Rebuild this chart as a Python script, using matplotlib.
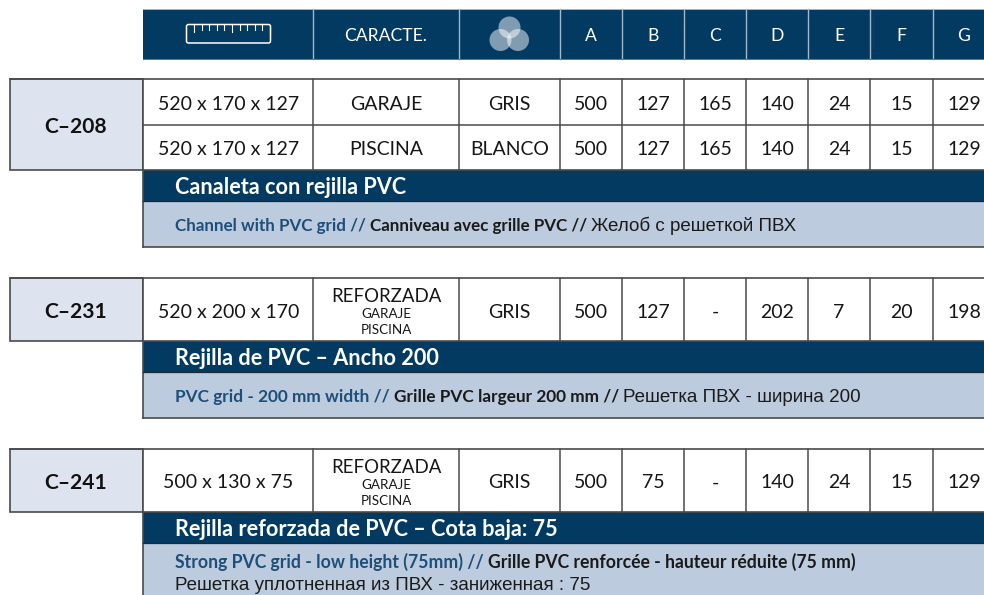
import matplotlib
matplotlib.use('Agg')
import matplotlib.pyplot as plt
from matplotlib.patches import Rectangle, Circle, FancyBboxPatch

# table content
header_labels = ['', 'CARACTE.', '', 'A', 'B', 'C', 'D', 'E', 'F', 'G']
codes = ['C-208', 'C-231', 'C-241']
block1_rows = [
    ['520 x 170 x 127', 'GARAJE', 'GRIS', '500', '127', '165', '140', '24', '15', '129'],
    ['520 x 170 x 127', 'PISCINA', 'BLANCO', '500', '127', '165', '140', '24', '15', '129'],
]
block2_row = ['520 x 200 x 170', 'REFORZADA', 'GRIS', '500', '127', '-', '202', '7', '20', '198']
block3_row = ['500 x 130 x 75', 'REFORZADA', 'GRIS', '500', '75', '-', '140', '24', '15', '129']
sub_labels = ['GARAJE', 'PISCINA']
titles = ['Canaleta con rejilla PVC', 'Rejilla de PVC - Ancho 200',
          'Rejilla reforzada de PVC - Cota baja: 75']
desc_en = ['Channel with PVC grid // ', 'PVC grid - 200 mm width // ',
           'Strong PVC grid - low height (75mm) // ']
desc_fr = ['Canniveau avec grille PVC // ', 'Grille PVC largeur 200 mm // ',
           'Grille PVC renforcée - hauteur réduite (75 mm)']
desc_ru = ['Желоб с решеткой ПВХ', 'Решетка ПВХ - ширина 200',
           'Решетка уплотненная из ПВХ - заниженная : 75']

# layout in pixels
col_x = [143, 313, 459, 560, 622, 684, 746, 808, 870, 933, 995]
desc_sizes = [17.0, 17.3, 17.6]
NAVY = '#023a62'
LIGHT = '#bdcbde'
CODE_BG = '#dee4ef'
LINE = '#4a4a4a'
TXT = '#161616'

fig = plt.figure(figsize=(9.84, 5.95), dpi=100)
ax = fig.add_axes([0, 0, 1, 1])
ax.set_xlim(0, 984)
ax.set_ylim(595, 0)
ax.axis('off')


def px(size):
    return size * 0.72


def run_text(x, y, parts):
    # draw text pieces one after the other on the same baseline
    rend = fig.canvas.get_renderer()
    for s, color, family, weight, size in parts:
        t = ax.text(x, y, s, color=color, family=family, weight=weight,
                    fontsize=px(size), va='baseline', ha='left')
        x += t.get_window_extent(rend).width
    return x


def draw_row(values, y0, y1, sub=False):
    for i, val in enumerate(values):
        xc = (col_x[i] + col_x[i + 1]) / 2
        if i == 0:
            xc = 228.5
        if sub and i == 1:
            ax.text(xc, y0 + 18.5, val, ha='center', va='center', family='Lato',
                    fontsize=px(18.7), color=TXT)
            ax.text(xc, y0 + 36, sub_labels[0], ha='center', va='center', family='Lato',
                    fontsize=px(13.5), color=TXT)
            ax.text(xc, y0 + 52, sub_labels[1], ha='center', va='center', family='Lato',
                    fontsize=px(13.5), color=TXT)
        else:
            ax.text(xc, (y0 + y1) / 2 + 2.5, val, ha='center', va='center', family='Lato',
                    fontsize=px(19.5), color=TXT)


def draw_block(code, rows, y0, y1, y2, y3, idx, sub=False):
    ax.add_patch(Rectangle((10, y0), 133, y1 - y0, fc=CODE_BG, ec=LINE, lw=1.2))
    ax.text(76, (y0 + y1) / 2 + 2.5, code.replace('-', '\u2013'), ha='center', va='center',
            family='Lato', weight='bold', fontsize=px(21), color='#111111')
    ax.add_patch(Rectangle((143, y0), 850, y1 - y0, fc='white', ec='none'))
    ax.add_patch(Rectangle((143, y1), 850, y2 - y1, fc=NAVY, ec='none'))
    ax.add_patch(Rectangle((143, y2), 850, y3 - y2, fc=LIGHT, ec='none'))
    ax.plot([143, 143], [y0, y3], color=LINE, lw=1.2)
    ax.plot([10, 984], [y0, y0], color=LINE, lw=1.2)
    ax.plot([143, 984], [y1, y1], color=LINE, lw=1.2)
    ax.plot([143, 984], [y2, y2], color='#1b2a38', lw=0.9)
    if y3 < 595:
        ax.plot([143, 984], [y3, y3], color=LINE, lw=1.2)
    for x in col_x[1:10]:
        ax.plot([x, x], [y0, y1], color=LINE, lw=1.1)
    h = (y1 - y0) / len(rows)
    for r, row in enumerate(rows):
        if r > 0:
            ax.plot([143, 984], [y0 + r * h, y0 + r * h], color=LINE, lw=1.1)
        draw_row(row, y0 + r * h, y0 + (r + 1) * h, sub)
    ax.text(175, y1 + 24, titles[idx].replace(' - ', ' \u2013 '), color='white',
            family='Lato', weight='bold', fontsize=px(21.6), va='baseline')


# header band
ax.add_patch(Rectangle((143, 9), 850, 50, fc=NAVY, ec='none'))
for x in col_x[1:10]:
    ax.plot([x, x], [9, 59], color='#a3b8c9', lw=1.0)
ax.plot([143, 984], [9, 9], color='#a3b8c9', lw=0.7)
ax.plot([143, 984], [59, 59], color='#4f7796', lw=0.7)
for i, lab in enumerate(header_labels):
    if lab:
        xc = (col_x[i] + col_x[i + 1]) / 2
        ax.text(xc, 36, lab, ha='center', va='center', color='white', family='Lato',
                fontsize=px(17.5))

# ruler icon
ax.add_patch(FancyBboxPatch((186.5, 24.5), 84, 18.5, boxstyle='round,pad=0,rounding_size=2',
                            fc='none', ec='white', lw=1.1))
for k in range(11):
    x = 194 + k * 7.6
    ax.plot([x, x], [25, 32 if k % 5 == 0 else 29.5], color='white', lw=0.8)

# colour icon
for cx, cy in [(509.5, 27.5), (500.5, 40), (518, 40)]:
    ax.add_patch(Circle((cx, cy), 11, fc='white', ec='none', alpha=0.5))

draw_block(codes[0], block1_rows, 79, 170, 201, 247, 0)
draw_block(codes[1], [block2_row], 278, 341, 372, 418, 1, sub=True)
draw_block(codes[2], [block3_row], 449, 512, 543, 600, 2, sub=True)

# description lines
BLUE_T = '#1d4f78'
BLK_T = '#1a1a1a'
fig.canvas.draw()
for i, base in enumerate([231, 402]):
    x = run_text(175, base, [(desc_en[i], BLUE_T, 'Lato', 'bold', desc_sizes[i]),
                             (desc_fr[i], BLK_T, 'Lato', 'bold', desc_sizes[i])])
    run_text(x, base, [(desc_ru[i], BLK_T, 'Liberation Sans', 'normal', 18.8)])
run_text(175, 568, [(desc_en[2], BLUE_T, 'Lato', 'bold', desc_sizes[2]),
                    (desc_fr[2], BLK_T, 'Lato', 'bold', desc_sizes[2])])
run_text(175, 590, [(desc_ru[2], BLK_T, 'Liberation Sans', 'normal', 18.8)])

fig.savefig('out.png', dpi=100)
